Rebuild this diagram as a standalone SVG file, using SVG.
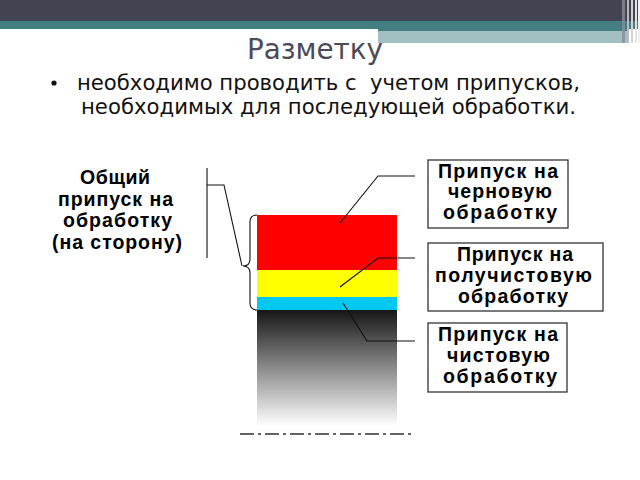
<svg xmlns="http://www.w3.org/2000/svg" width="640" height="480" viewBox="0 0 640 480">
<defs>
<linearGradient id="fade" x1="0" y1="0" x2="0" y2="1">
<stop offset="0" stop-color="#161616"/>
<stop offset="1" stop-color="#ffffff"/>
</linearGradient>
<style>
.title{font-family:"DejaVu Sans","Noto Sans",sans-serif;font-size:29px;fill:#4a4a5a}
.body{font-family:"DejaVu Sans","Noto Sans",sans-serif;font-size:22px;fill:#111}
.lbl{font-family:"Liberation Sans",Arial,sans-serif;font-weight:bold;font-size:19.5px;fill:#000;text-anchor:middle}
.box{fill:#fff;stroke:#333;stroke-width:1.3}
.ln{fill:none;stroke:#111;stroke-width:1.1}
</style>
</defs>
<rect width="640" height="480" fill="#fff"/>
<!-- header -->
<g id="header">
<rect x="0" y="0" width="640" height="21" fill="#434452"/>
<rect x="0" y="21" width="640" height="8" fill="#437f82"/>
<rect x="378" y="29" width="249" height="2" fill="#437f82"/>
<rect x="378" y="31" width="249" height="12" fill="#a2bfc2"/>
<rect x="622" y="0" width="3" height="43" fill="#8a8c96" opacity="0.8"/>
<rect x="627" y="0" width="2" height="43" fill="#b8bac0"/>
<rect x="631" y="0" width="2" height="43" fill="#d0d2d6"/>
<rect x="635" y="0" width="2" height="43" fill="#e2e3e6"/>
<rect x="638" y="0" width="2" height="43" fill="#f0f0f2"/>
</g>
<text class="title" x="247" y="59" textLength="136" lengthAdjust="spacingAndGlyphs">Разметку</text>
<circle cx="54" cy="83" r="2.6" fill="#111"/>
<text class="body" x="77" y="90" textLength="503" lengthAdjust="spacingAndGlyphs" xml:space="preserve">необходимо проводить с  учетом припусков,</text>
<text class="body" x="81" y="114" textLength="495" lengthAdjust="spacingAndGlyphs">необходимых для последующей обработки.</text>
<!-- workpiece -->
<g id="workpiece">
<rect x="257" y="310" width="140" height="116" fill="url(#fade)"/>
<rect x="257" y="215" width="140" height="55" fill="#ff0000"/>
<rect x="257" y="270" width="140" height="27" fill="#ffff00"/>
<rect x="257" y="297" width="140" height="13" fill="#00c8f0"/>
<line x1="240" y1="434" x2="412" y2="434" stroke="#333" stroke-width="1.4" stroke-dasharray="14 4 3 4"/>
</g>
<!-- total label -->
<g id="total">
<text class="lbl" x="115" y="184" textLength="70" lengthAdjust="spacing">Общий</text>
<text class="lbl" x="115.5" y="206" textLength="115" lengthAdjust="spacing">припуск на</text>
<text class="lbl" x="117.5" y="227" textLength="109" lengthAdjust="spacing">обработку</text>
<text class="lbl" x="117" y="249" textLength="130" lengthAdjust="spacing">(на сторону)</text>
</g>
<g id="rough">
<rect class="box" x="428" y="160" width="140" height="68"/>
<text class="lbl" x="498" y="178" textLength="120" lengthAdjust="spacing">Припуск на</text>
<text class="lbl" x="500" y="198" textLength="104" lengthAdjust="spacing">черновую</text>
<text class="lbl" x="500" y="219" textLength="114" lengthAdjust="spacing">обработку</text>
</g>
<g id="semifinish">
<rect class="box" x="428" y="243" width="175" height="68"/>
<text class="lbl" x="515" y="261" textLength="116" lengthAdjust="spacing">Припуск на</text>
<text class="lbl" x="513.5" y="282" textLength="157" lengthAdjust="spacing">получистовую</text>
<text class="lbl" x="513" y="303" textLength="110" lengthAdjust="spacing">обработку</text>
</g>
<g id="finish">
<rect class="box" x="428" y="323" width="139" height="69"/>
<text class="lbl" x="498" y="341" textLength="120" lengthAdjust="spacing">Припуск на</text>
<text class="lbl" x="498.5" y="362" textLength="103" lengthAdjust="spacing">чистовую</text>
<text class="lbl" x="500" y="383" textLength="114" lengthAdjust="spacing">обработку</text>
</g>
<!-- connectors -->
<g id="connectors">
<path class="ln" d="M207,168 V258 M207,185 H224 L242,266"/>
<path class="ln" d="M257,215 Q250,215 250,222 V259 Q250,266 243,266 Q250,266 250,273 V303 Q250,310 257,310"/>
<path class="ln" d="M340,223 L378,176 H415"/>
<path class="ln" d="M340,287 L378,258 H415"/>
<path class="ln" d="M343,303 L367,341 H415" stroke-width="1.4"/>
</g>
</svg>
